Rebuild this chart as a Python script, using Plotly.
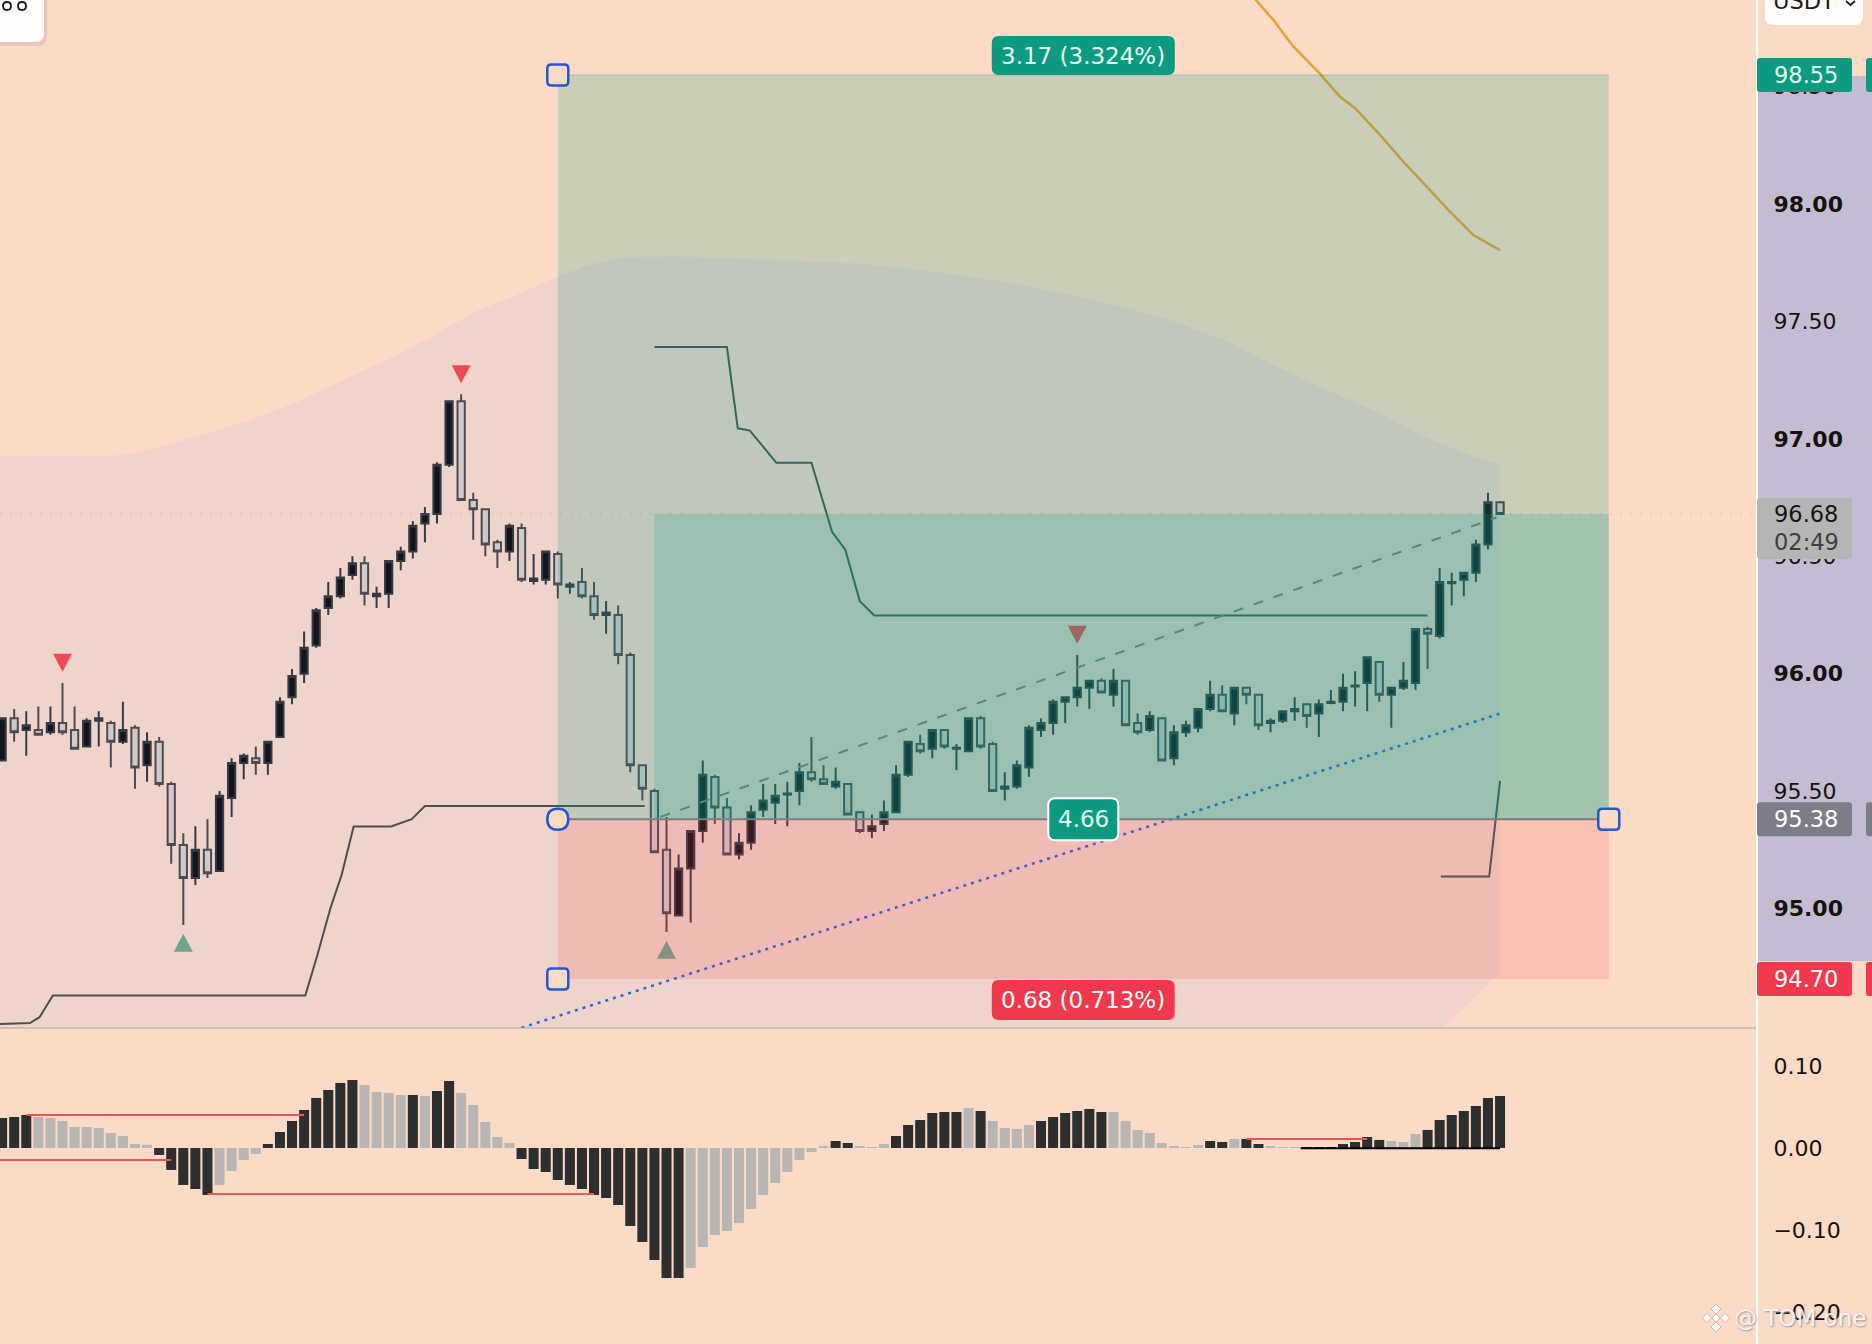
import plotly.graph_objects as go

# ---------------- candles (price units) ----------------
candle_open = [95.63,95.81,95.76,95.76,95.75,95.79,95.76,95.69,95.80,95.79,95.71,95.77,95.61,95.71,95.53,95.27,95.13,95.25,95.16,95.47,
               95.62,95.64,95.62,95.73,95.90,96.00,96.12,96.28,96.33,96.42,96.47,96.33,96.34,96.48,96.52,96.64,96.68,96.89,97.16,96.74,
               96.70,96.56,96.52,96.62,96.395,96.40,96.51,96.37,96.39,96.33,96.25,96.25,96.08,95.61,95.50,95.25,94.97,95.17,95.33,95.56,
               95.43,95.23,95.28,95.42,95.45,95.485,95.50,95.58,95.55,95.52,95.53,95.41,95.33,95.36,95.41,95.57,95.70,95.68,95.76,95.68,
               95.67,95.81,95.70,95.51,95.52,95.60,95.76,95.79,95.88,95.90,95.94,95.97,95.91,95.97,95.79,95.76,95.81,95.64,95.75,95.77,
               95.85,95.91,95.83,95.94,95.91,95.79,95.80,95.84,95.87,95.83,95.875,95.88,95.945,95.96,96.05,95.91,95.94,95.96,96.19,96.16,
               96.385,96.40,96.43,96.55,96.73]
candle_high = [95.81,95.85,95.84,95.86,95.86,95.96,95.86,95.81,95.84,95.80,95.88,95.78,95.75,95.73,95.54,95.32,95.35,95.38,95.50,95.64,
               95.66,95.69,95.71,95.90,96.02,96.18,96.28,96.39,96.45,96.50,96.50,96.37,96.48,96.54,96.65,96.71,96.90,97.16,97.19,96.77,
               96.70,96.57,96.64,96.64,96.51,96.52,96.52,96.39,96.45,96.39,96.31,96.29,96.09,95.61,95.51,95.39,95.23,95.33,95.63,95.57,
               95.47,95.32,95.44,95.53,95.53,95.54,95.62,95.73,95.61,95.60,95.53,95.41,95.40,95.46,95.61,95.71,95.74,95.76,95.76,95.70,
               95.81,95.82,95.71,95.58,95.63,95.78,95.81,95.89,95.90,96.08,95.97,95.98,96.02,95.97,95.83,95.84,95.81,95.78,95.80,95.85,
               95.97,95.95,95.94,95.94,95.91,95.81,95.84,95.90,95.87,95.89,95.93,96.00,96.01,96.07,96.05,95.94,96.05,96.19,96.20,96.45,
               96.43,96.43,96.57,96.77,96.73]
candle_low = [95.63,95.71,95.65,95.74,95.74,95.74,95.68,95.69,95.69,95.60,95.70,95.51,95.54,95.52,95.19,94.93,95.10,95.13,95.16,95.39,
              95.55,95.57,95.57,95.73,95.87,95.96,96.11,96.25,96.32,96.40,96.29,96.28,96.28,96.44,96.49,96.56,96.64,96.88,96.74,96.57,
              96.50,96.45,96.48,96.39,96.38,96.38,96.32,96.34,96.32,96.23,96.17,96.04,95.58,95.46,95.24,94.90,94.97,94.94,95.28,95.36,
              95.23,95.21,95.25,95.39,95.36,95.35,95.44,95.54,95.53,95.51,95.40,95.32,95.30,95.33,95.41,95.56,95.66,95.64,95.68,95.59,
              95.67,95.68,95.50,95.46,95.51,95.56,95.73,95.74,95.79,95.86,95.85,95.92,95.86,95.78,95.74,95.75,95.63,95.61,95.73,95.75,
              95.84,95.84,95.78,95.87,95.76,95.75,95.79,95.80,95.77,95.73,95.87,95.84,95.86,95.84,95.88,95.77,95.93,95.93,96.02,96.15,
              96.29,96.33,96.39,96.53,96.68]
candle_close = [95.81,95.75,95.78,95.74,95.79,95.75,95.68,95.80,95.81,95.71,95.76,95.60,95.71,95.53,95.27,95.13,95.25,95.15,95.48,95.62,
                95.65,95.62,95.71,95.88,95.99,96.11,96.27,96.33,96.41,96.47,96.34,96.34,96.48,96.52,96.63,96.68,96.89,97.16,96.74,96.70,
                96.55,96.52,96.63,96.40,96.405,96.52,96.38,96.38,96.33,96.25,96.26,96.08,95.61,95.51,95.24,94.98,95.17,95.33,95.57,95.43,
                95.23,95.28,95.41,95.46,95.48,95.49,95.58,95.55,95.53,95.54,95.40,95.33,95.35,95.41,95.57,95.71,95.67,95.76,95.69,95.685,
                95.81,95.69,95.50,95.52,95.61,95.77,95.79,95.88,95.90,95.94,95.97,95.92,95.97,95.78,95.75,95.82,95.63,95.75,95.78,95.85,
                95.91,95.84,95.94,95.91,95.78,95.80,95.84,95.85,95.82,95.87,95.88,95.94,95.95,96.07,95.91,95.94,95.97,96.19,96.17,96.39,
                96.39,96.43,96.55,96.73,96.68]
candle_index = list(range(len(candle_open)))

# ---------------- histogram ----------------
hist_values = [0.0366,0.0378,0.0402,0.0378,0.0366,0.0329,0.0256,0.0256,0.0244,0.0183,0.0146,0.0049,0.0037,-0.0085,-0.0268,-0.0451,-0.05,-0.0573,-0.0451,-0.028,
               -0.0146,-0.0073,0.0049,0.0195,0.0329,0.0463,0.061,0.0707,0.0793,0.0829,0.0768,0.0683,0.0671,0.0646,0.0646,0.0634,0.0695,0.0817,0.0671,0.0524,
               0.0317,0.0134,0.0061,-0.0134,-0.0256,-0.0293,-0.039,-0.0451,-0.05,-0.0573,-0.061,-0.0695,-0.0951,-0.1146,-0.1366,-0.1585,-0.1585,-0.1463,-0.1207,-0.1061,
               -0.1012,-0.0915,-0.0744,-0.0573,-0.0427,-0.0293,-0.0146,-0.0049,0.0024,0.0085,0.0061,0.0024,0.0012,0.0049,0.0146,0.028,0.0341,0.0427,0.0439,0.0439,
               0.0488,0.0451,0.0329,0.0244,0.0232,0.028,0.0329,0.0378,0.0427,0.0451,0.0476,0.0439,0.0439,0.0329,0.022,0.0183,0.0061,0.0024,0.0012,0.0037,
               0.0085,0.0073,0.011,0.011,0.0049,0.0024,0.0012,0.0012,0.0008,0.0008,0.0008,0.0049,0.0073,0.0134,0.0098,0.0085,0.0073,0.0171,0.022,0.0341,
               0.0402,0.0451,0.0512,0.061,0.0634]
hist_shade = list("DDDGGGGGGGGGG" "DDDDD" "GGGG" "DDDDDDDD" "GGGG" "D" "G" "DD" "GGGGG" "DDDDDDDDDDDDDD" "GGGGGGGGGGGG"
                  "DD" "GGG" "DDDDDD" "G" "D" "GGGG" "DDDDDD" "GGGGGGGG" "DD" "G" "DD" "GGG" "DDDDDDD" "GGG" "DDDDDDDD")
shade_colors = {"D": "#2e2e2e", "G": "#b9b5b2"}

hist_level_x = [[2, 25], [-1, 14], [17, 49], [103, 113]]
hist_level_y = [0.0402, -0.0146, -0.0561, 0.011]

# ---------------- overlays ----------------
cloud_x = [-1, 4.7, 8.77, 11.2, 16.1, 20.2, 24.2, 28.3, 32.4, 35.6, 38.9, 42.9, 46.0, 48.6, 51.5, 56.8, 63.3, 70.6, 77.1, 82.8,
           88.5, 93.3, 97.4, 101.5, 105.5, 109.6, 113.7, 117.7, 121.8, 124, 124, 118.4, -1]
cloud_y = [96.925, 96.928, 96.925, 96.942, 97.01, 97.074, 97.152, 97.251, 97.351, 97.436, 97.535, 97.62, 97.691, 97.741, 97.774, 97.776, 97.762, 97.748, 97.713, 97.67,
           97.613, 97.556, 97.493, 97.414, 97.308, 97.209, 97.116, 97.01, 96.925, 96.889, 94.725, 94.45, 94.45]

orange_x = [103.6, 105.24, 106.9, 109.1, 110.76, 112.0, 114.07, 116.0, 117.93, 119.59, 121.79, 123.99]
orange_y = [98.88, 98.784, 98.67, 98.554, 98.457, 98.408, 98.294, 98.18, 98.074, 97.982, 97.868, 97.804]

stop_upper_x = [54.0, 60.0, 60.9, 61.9, 64.1, 67.0, 68.7, 69.8, 71.0, 72.2, 118.0]
stop_upper_y = [97.391, 97.391, 97.045, 97.035, 96.898, 96.898, 96.604, 96.528, 96.309, 96.248, 96.248]

stop_lower_x = [-1, 2.3, 3.1, 4.2, 25.1, 26.1, 27.2, 28.1, 29.1, 32.2, 33.9, 35.0, 53.2]
stop_lower_y = [94.507, 94.512, 94.537, 94.629, 94.629, 94.802, 95.005, 95.142, 95.349, 95.349, 95.380, 95.436, 95.436]

stop_end_x = [119.1, 123.1, 124]
stop_end_y = [95.136, 95.136, 95.543]

trend_dash_x = [54.5, 123.7]
trend_dash_y = [95.39, 96.665]
trend_dot_x = [43.0, 124.0]
trend_dot_y = [94.492, 95.83]

down_x = [5, 38, 89]
down_y = [96.047, 97.275, 96.166]
up_x = [15, 55]
up_y = [94.854, 94.824]

ENTRY, TARGET, STOP, LAST = 95.38, 98.55, 94.70, 96.68
TOOL_LEFT, TOOL_ACTIVE, TOOL_RIGHT, TOOL_MID = 46, 54, 133, 89.5

price_ticks = [98.5, 98.0, 97.5, 97.0, 96.5, 96.0, 95.5, 95.0]
price_labels = ["98.50", "<b>98.00</b>", "97.50", "<b>97.00</b>", "96.50", "<b>96.00</b>", "95.50", "<b>95.00</b>"]
osc_ticks = [0.1, 0.0, -0.1, -0.2]
osc_labels = ["0.10", "0.00", "\u22120.10", "\u22120.20"]

# ---------------- style ----------------
BG = "#fbdac6"
FONT = "DejaVu Sans"
TEAL = "#0c9b80"
RED = "#f0394c"
W, H, GUT = 1872, 1344, 115
PANE = 1 - 1028 / H


def rbox(x0, x1, y0, y1, r):
    return (f"M {x0+r} {y0} L {x1-r} {y0} Q {x1} {y0} {x1} {y0+r} L {x1} {y1-r} Q {x1} {y1} {x1-r} {y1} "
            f"L {x0+r} {y1} Q {x0} {y1} {x0} {y1-r} L {x0} {y0+r} Q {x0} {y0} {x0+r} {y0} Z")


fig = go.Figure()
fig.add_trace(go.Bar(x=candle_index, y=hist_values, yaxis="y2", width=0.83,
                     marker=dict(color=[shade_colors[s] for s in hist_shade], line=dict(width=0))))
fig.add_trace(go.Candlestick(x=candle_index, open=candle_open, high=candle_high, low=candle_low, close=candle_close,
                             whiskerwidth=0, line=dict(width=2),
                             increasing=dict(line=dict(color="#2b2b2b", width=2), fillcolor="#000000"),
                             decreasing=dict(line=dict(color="#453d39", width=2), fillcolor="#d9cec6")))
fig.add_trace(go.Scatter(x=cloud_x, y=cloud_y, mode="lines", fill="toself", line=dict(width=0),
                         fillcolor="rgba(150,176,238,0.12)"))
fig.add_trace(go.Scatter(x=orange_x, y=orange_y, mode="lines", line=dict(color="#e6a233", width=2.5)))
for xs, ys, col in [(stop_upper_x, stop_upper_y, "#3f5a53"), (stop_lower_x, stop_lower_y, "#4f4f4f"), (stop_end_x, stop_end_y, "#3f5a53")]:
    fig.add_trace(go.Scatter(x=xs, y=ys, mode="lines", line=dict(color=col, width=2)))
fig.add_trace(go.Scatter(x=trend_dash_x, y=trend_dash_y, mode="lines", line=dict(color="#7d807c", width=2, dash="10px,11px")))
fig.add_trace(go.Scatter(x=trend_dot_x, y=trend_dot_y, mode="lines", line=dict(color="#2f62e0", width=2.5, dash="3px,5px")))

shapes = []


def pix_shape(xref, xanchor, yref, yanchor, path, **kw):
    d = dict(type="path", xref=xref, yref=yref, xsizemode="pixel", ysizemode="pixel",
             xanchor=xanchor, yanchor=yanchor, path=path)
    d.update(kw)
    shapes.append(d)


# gutter band
shapes.append(dict(type="rect", layer="below", xref="paper", yref="paper", x0=1, x1=1 + GUT / (W - GUT),
                   y0=1 - 961 / H, y1=1 - 76 / H, fillcolor="#c4bcd3", line=dict(width=0)))
# pivot triangles, anchored on their data points
for xa, ya in zip(down_x, down_y):
    pix_shape("x", xa, "y", ya, "M -9.5 9 L 9.5 9 L 0 -9 Z", fillcolor="#ef4a50", line=dict(width=0))
for xa, ya in zip(up_x, up_y):
    pix_shape("x", xa, "y", ya, "M -9.5 -9 L 9.5 -9 L 0 9 Z", fillcolor="#6fa58c", line=dict(width=0))
# position tool
shapes.append(dict(type="rect", xref="x", yref="y", x0=TOOL_LEFT, x1=TOOL_RIGHT, y0=ENTRY, y1=TARGET,
                   fillcolor="rgba(8,153,129,0.2)", line=dict(width=0)))
shapes.append(dict(type="rect", xref="x", yref="y", x0=TOOL_ACTIVE, x1=TOOL_RIGHT, y0=ENTRY, y1=LAST,
                   fillcolor="rgba(8,153,129,0.2)", line=dict(width=0)))
shapes.append(dict(type="rect", xref="x", yref="y", x0=TOOL_LEFT, x1=TOOL_RIGHT, y0=STOP, y1=ENTRY,
                   fillcolor="rgba(242,54,69,0.16)", line=dict(width=0)))
shapes.append(dict(type="line", xref="x", yref="y", x0=TOOL_LEFT, x1=TOOL_RIGHT, y0=TARGET, y1=TARGET,
                   line=dict(color="rgba(8,120,100,0.25)", width=1)))
shapes.append(dict(type="line", xref="x", yref="y", x0=TOOL_LEFT, x1=TOOL_RIGHT, y0=ENTRY, y1=ENTRY,
                   line=dict(color="#7a7f80", width=2)))
shapes.append(dict(type="line", xref="paper", yref="y", x0=0, x1=1, y0=LAST, y1=LAST,
                   line=dict(color="rgba(90,90,90,0.22)", width=1, dash="2px,8px")))
# oscillator levels
for xs, lvl in zip(hist_level_x, hist_level_y):
    shapes.append(dict(type="line", xref="x", yref="y2", x0=xs[0], x1=xs[1], y0=lvl, y1=lvl, line=dict(color="#e8584f", width=2)))
shapes.append(dict(type="line", xref="x", yref="y2", x0=107.5, x1=124, y0=-0.0004, y1=-0.0004, line=dict(color="#000000", width=2)))
# panes
shapes.append(dict(type="line", xref="paper", yref="paper", x0=0, x1=1, y0=PANE, y1=PANE, line=dict(color="#a8a5a3", width=1)))
shapes.append(dict(type="line", xref="paper", yref="paper", x0=1, x1=1, y0=0, y1=1, line=dict(color="#ffffff", width=2)))

# handles
for xa, ya, r in [(TOOL_LEFT, TARGET, 4), (TOOL_LEFT, STOP, 4), (TOOL_RIGHT, ENTRY, 4), (TOOL_LEFT, ENTRY, 10.5)]:
    pix_shape("x", xa, "y", ya, rbox(-10.5, 10.5, -10.5, 10.5, r), fillcolor=BG, line=dict(color="#2259cf", width=2.5))
# labels on tool
pix_shape("x", TOOL_MID, "y", TARGET, rbox(-91.5, 91.5, 0, 39, 7), fillcolor=TEAL, line=dict(width=0))
pix_shape("x", TOOL_MID, "y", STOP, rbox(-91.5, 91.5, -41, -1, 7), fillcolor=RED, line=dict(width=0))
pix_shape("x", TOOL_MID, "y", ENTRY, rbox(-35, 35, -21, 21, 7), fillcolor=TEAL, line=dict(color="#ffffff", width=2))
# price tags
for ya, top, bot, col in [(TARGET, 17, -17, TEAL), (ENTRY, 17, -17, "#7d7d89"), (STOP, 17, -17, RED), (LAST, 16, -45, "#b5b5b5")]:
    pix_shape("paper", 1, "y", ya, rbox(0, 95, bot, top, 3), fillcolor=col, line=dict(width=0))
    if ya != LAST:
        pix_shape("paper", 1, "y", ya, rbox(109, 122, bot, top, 3), fillcolor=col, line=dict(width=0))
# corner buttons
pix_shape("paper", 0, "paper", 1, rbox(-12, 47, -46, 12, 10), fillcolor="rgba(232,190,182,0.8)", line=dict(width=0))
pix_shape("paper", 0, "paper", 1, rbox(-12, 44, -42, 12, 9), fillcolor="#fffefc", line=dict(width=0))
for cx in (7, 22):
    pix_shape("paper", 0, "paper", 1, rbox(cx - 4, cx + 4, -10, -2, 4), fillcolor="rgba(0,0,0,0)", line=dict(color="#1a1a1a", width=1.8))
pix_shape("paper", 1, "paper", 1, rbox(8, 106, -25, 12, 8), fillcolor="#fffefc", line=dict(width=0))
pix_shape("paper", 1, "paper", 1, "M 89 -1 L 93.5 -5 L 98 -1", line=dict(color="#1a1a1a", width=1.8))
# watermark logo
wm_y = 1 - 1318 / H
logo = ""
for cx, cy, s in [(-41, 9, 5), (-41, -9, 5), (-50, 0, 4.5), (-32, 0, 4.5), (-41, 0, 4)]:
    logo += f"M {cx-s} {cy} L {cx} {cy+s} L {cx+s} {cy} L {cx} {cy-s} Z "
pix_shape("paper", 1, "paper", wm_y, logo, fillcolor="rgba(255,255,255,0.95)", line=dict(color="rgba(150,140,135,0.5)", width=1))

anns = []


def label(xref, x, yref, y, text, color, size=22.5, xanchor="center", xshift=0, yshift=0, **kw):
    f = dict(family=FONT, size=size, color=color)
    f.update(kw)
    anns.append(dict(xref=xref, x=x, yref=yref, y=y, text=text, showarrow=False, xanchor=xanchor, yanchor="middle",
                     xshift=xshift, yshift=yshift, font=f))


label("x", TOOL_MID, "y", TARGET, "3.17 (3.324%)", "#e4fbf4", size=23, yshift=19)
label("x", TOOL_MID, "y", STOP, "0.68 (0.713%)", "#ffffff", size=23, yshift=-21)
label("x", TOOL_MID, "y", ENTRY, "4.66", "#e4fbf4", size=23)
label("paper", 1, "y", TARGET, "98.55", "#e4fbf4", xanchor="left", xshift=15)
label("paper", 1, "y", LAST, "96.68", "#151515", xanchor="left", xshift=15)
label("paper", 1, "y", LAST, "02:49", "#3f3f3f", xanchor="left", xshift=15, yshift=-28)
label("paper", 1, "y", ENTRY, "95.38", "#ffffff", xanchor="left", xshift=15)
label("paper", 1, "y", STOP, "94.70", "#ffffff", xanchor="left", xshift=15)
label("paper", 1, "paper", 1, "USDT", "#1a1a1a", xanchor="left", xshift=14, yshift=-1)
label("paper", 1, "paper", wm_y, "@ TOM one", "rgba(255,255,255,0.85)", size=23, xanchor="center", xshift=43,
      shadow="1px 1px 2px #8a8480")

tick_font = dict(family=FONT, size=22, color="#17120f")
axis_common = dict(side="right", showgrid=False, zeroline=False, showline=False, ticks="outside", ticklen=11,
                   tickcolor="rgba(0,0,0,0)", tickfont=tick_font, automargin=False, tickmode="array")

fig.update_layout(
    width=W, height=H, margin=dict(l=0, r=GUT, t=0, b=0, pad=0),
    paper_bgcolor=BG, plot_bgcolor=BG, showlegend=False, boxgap=0.4, boxgroupgap=0, hovermode=False,
    xaxis=dict(visible=False, range=[-0.174, 145.27], rangeslider=dict(visible=False), anchor="y2"),
    yaxis=dict(domain=[PANE, 1], range=[94.491, 98.869], tickvals=price_ticks, ticktext=price_labels, anchor="x", **axis_common),
    yaxis2=dict(domain=[0, PANE], range=[-0.239, 0.1463], tickvals=osc_ticks, ticktext=osc_labels, anchor="x", **axis_common),
    shapes=shapes, annotations=anns,
)

fig.write_html("out.html", config=dict(displayModeBar=False),
               post_script="document.body.style.margin='0';document.body.style.overflow='hidden';")
